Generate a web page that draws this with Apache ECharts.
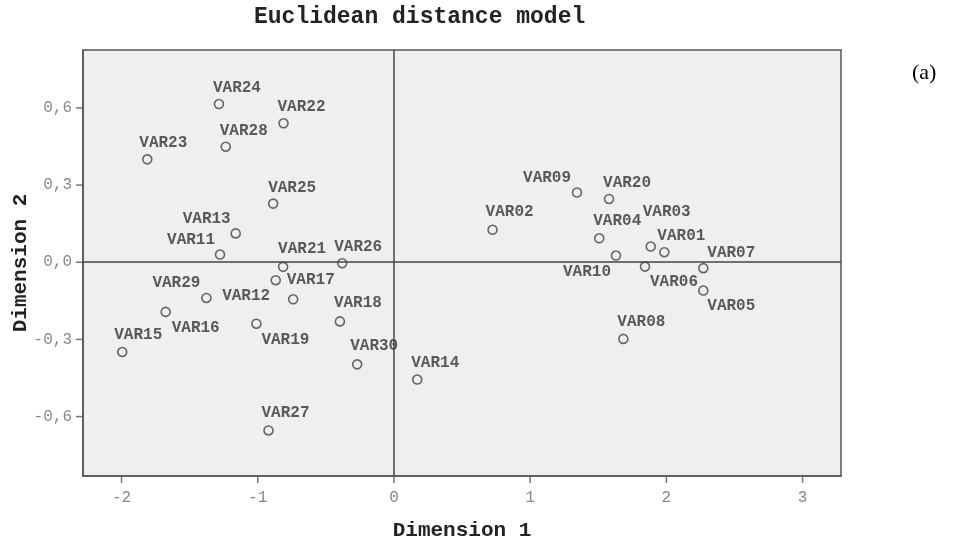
<!DOCTYPE html>
<html>
<head>
<meta charset="utf-8">
<script src="https://cdn.jsdelivr.net/npm/echarts@6/dist/echarts.min.js"></script>
<style>html,body{margin:0;padding:0;background:#fff}#c{width:961px;height:547px}</style>
</head>
<body>
<div id="c"></div>
<script>
const names = ['VAR24','VAR22','VAR28','VAR23','VAR25','VAR13','VAR11','VAR21','VAR26','VAR17','VAR12','VAR29','VAR16','VAR19','VAR15','VAR18','VAR30','VAR14','VAR27',
  'VAR09','VAR20','VAR02','VAR04','VAR03','VAR01','VAR10','VAR06','VAR07','VAR05','VAR08'];
const dim1 = [-1.285,-0.811,-1.235,-1.811,-0.887,-1.162,-1.277,-0.814,-0.380,-0.868,-0.740,-1.377,-1.676,-1.010,-1.995,-0.397,-0.270,0.171,-0.921,
  1.344,1.579,0.724,1.507,1.885,1.985,1.630,1.843,2.271,2.271,1.684];
const dim2 = [0.615,0.540,0.449,0.400,0.228,0.112,0.030,-0.018,-0.004,-0.070,-0.144,-0.139,-0.193,-0.239,-0.349,-0.230,-0.397,-0.456,-0.654,
  0.271,0.246,0.126,0.093,0.061,0.039,0.026,-0.017,-0.023,-0.110,-0.298];
const xTicks = [-2,-1,0,1,2,3];
const xTickLabels = ['-2','-1','0','1','2','3'];
const yTicks = [-0.6,-0.3,0,0.3,0.6];
const yTickLabels = ['-0,6','-0,3','0,0','0,3','0,6'];
const xRange = [-2.283, 3.282];
const yRange = [-0.831, 0.825];

// label placement (style only): offset of label's left/middle from the marker centre
const labelPlace = {
  VAR24:[-6,-16], VAR22:[-6,-16], VAR28:[-6,-16], VAR23:[-8,-16], VAR25:[-5,-16],
  VAR13:[-53,-14], VAR11:[-53,-15], VAR21:[-5,-18], VAR26:[-8,-16], VAR17:[11,0],
  VAR12:[-71,-3], VAR29:[-54,-15], VAR16:[6,16], VAR19:[5,16], VAR15:[-8,-17],
  VAR18:[-6,-18], VAR30:[-7,-18], VAR14:[-6,-17], VAR27:[-7,-17],
  VAR09:[-54,-15], VAR20:[-6,-16], VAR02:[-7,-18], VAR04:[-6,-17], VAR03:[-8,-35],
  VAR01:[-7,-16], VAR10:[-53,16], VAR06:[5,15], VAR07:[4,-15], VAR05:[4,15], VAR08:[-6,-17]
};

const mono = 'Liberation Mono';
const data = names.map((n,i)=>({
  name:n, value:[dim1[i],dim2[i]],
  label:{offset:labelPlace[n]||[0,-16]}
}));
function lookup(ticks, labels){
  return v => { const k = ticks.findIndex(t=>Math.abs(t-v)<1e-6); return k>=0 ? labels[k] : ''; };
}

const chart = echarts.init(document.getElementById('c'), null, {renderer:'canvas'});
chart.setOption({
  animation:false,
  title:{
    text:'Euclidean distance model', left:249, top:1,
    textStyle:{fontFamily:mono, fontSize:23, fontWeight:'bold', color:'#222'}
  },
  graphic:[{
    type:'text', left:912, top:62,
    style:{text:'(a)', font:'22px "Liberation Serif"', fill:'#000'}
  }],
  grid:{left:83, right:120, top:50, bottom:71, show:true, backgroundColor:'#efefef', borderColor:'#555', borderWidth:1.5,
    outerBoundsMode:'none', containLabel:false},
  xAxis:{
    type:'value', min:xRange[0], max:xRange[1], splitNumber:5, position:'bottom',
    name:'Dimension 1', nameLocation:'middle', nameGap:44, nameMoveOverlap:false,
    nameTextStyle:{fontFamily:mono, fontSize:21, fontWeight:'bold', color:'#222'},
    axisLine:{show:true, onZero:false, lineStyle:{color:'#555', width:1.5}},
    splitLine:{show:false},
    axisTick:{show:false},
    axisLabel:{showMinLabel:false, showMaxLabel:false, margin:14, fontFamily:mono, fontSize:16, color:'#888',
      formatter:lookup(xTicks, xTickLabels)}
  },
  yAxis:{
    type:'value', min:yRange[0], max:yRange[1], splitNumber:5, position:'left',
    name:'Dimension 2', nameLocation:'middle', nameGap:52, nameRotate:90, nameMoveOverlap:false,
    nameTextStyle:{fontFamily:mono, fontSize:21, fontWeight:'bold', color:'#222'},
    axisLine:{show:true, onZero:false, lineStyle:{color:'#555', width:1.5}},
    splitLine:{show:false},
    axisTick:{show:false},
    axisLabel:{showMinLabel:false, showMaxLabel:false, margin:11, fontFamily:mono, fontSize:16, color:'#888',
      formatter:lookup(yTicks, yTickLabels)}
  },
  series:[{
    type:'scatter',
    symbol:'circle', symbolSize:9,
    itemStyle:{color:'rgba(0,0,0,0)', borderColor:'#444', borderWidth:1.6},
    label:{show:true, formatter:'{b}', position:'inside', align:'left', verticalAlign:'middle',
      fontFamily:mono, fontSize:16, fontWeight:'bold', color:'#333'},
    emphasis:{disabled:true},
    data:data,
    markLine:{
      silent:true, symbol:'none', animation:false,
      label:{show:false},
      lineStyle:{color:'#444', width:1.5, type:'solid'},
      data:[{xAxis:0},{yAxis:0}]
    }
  },{
    // x-axis tick marks, placed through the axis scale at the tick values
    type:'scatter', silent:true, clip:false, z:5,
    symbol:'rect', symbolSize:[1.5,7], symbolOffset:[0,3.5],
    itemStyle:{color:'#555'}, label:{show:false}, emphasis:{disabled:true},
    data:xTicks.map(t=>[t, yRange[0]])
  },{
    // y-axis tick marks
    type:'scatter', silent:true, clip:false, z:5,
    symbol:'rect', symbolSize:[7,1.5], symbolOffset:[-3.5,0],
    itemStyle:{color:'#555'}, label:{show:false}, emphasis:{disabled:true},
    data:yTicks.map(t=>[xRange[0], t])
  }]
});
</script>
</body>
</html>
